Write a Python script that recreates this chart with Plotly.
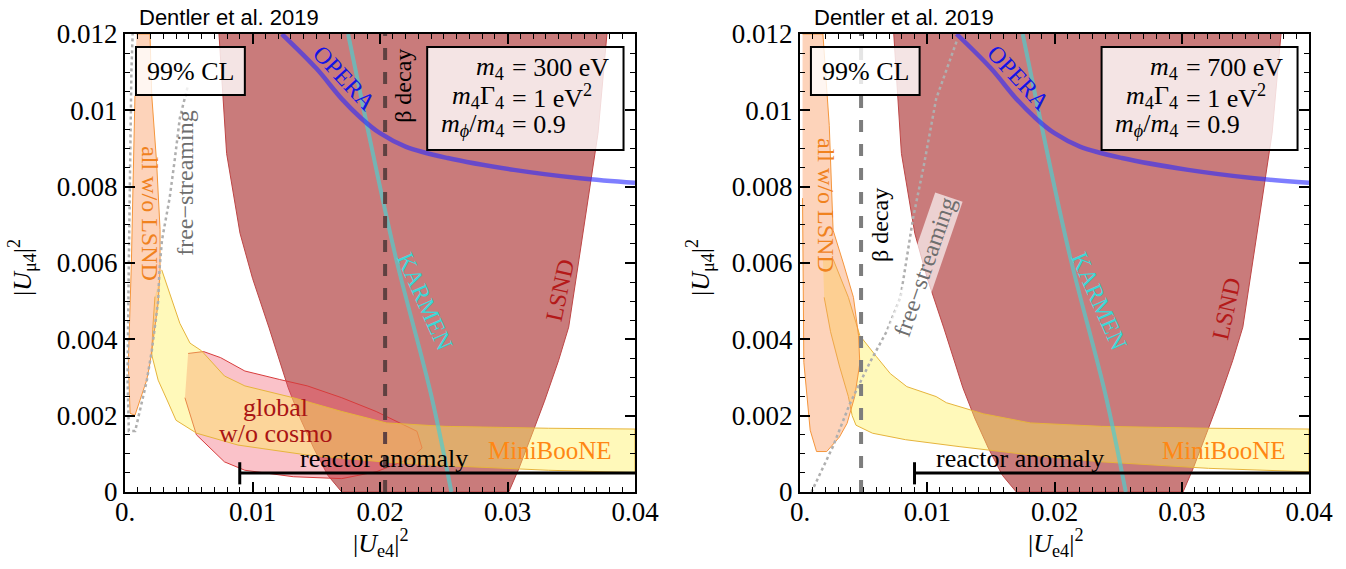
import plotly.graph_objects as go

# ---------------- data (|U_e4|^2, |U_mu4|^2) ----------------
lsnd_x = [0.00737, 0.00797, 0.00902, 0.0100, 0.0113, 0.0128, 0.01373, 0.0148, 0.0159, 0.0170,
          0.0301, 0.0309, 0.0321, 0.0329, 0.0340, 0.0348, 0.0356, 0.0364, 0.0371, 0.0378]
lsnd_y = [0.012, 0.00887, 0.00678, 0.0056, 0.0043, 0.00273, 0.00194, 0.00115, 0.00044, 0.0,
          0.0, 0.00062, 0.00167, 0.00238, 0.00344, 0.00432, 0.00608, 0.0079, 0.0094, 0.012]

opera_x = [0.0123, 0.0150, 0.0170, 0.0185, 0.0200, 0.0220, 0.0253, 0.0305, 0.0357, 0.0400]
opera_y = [0.012, 0.0111, 0.0103, 0.0098, 0.0094, 0.00905, 0.00875, 0.00844, 0.00822, 0.0081]

karmen_x = [0.0175, 0.0190, 0.0212, 0.0240, 0.0256]
karmen_y = [0.012, 0.00957, 0.0062, 0.00256, 0.0]

mb_left_x = [0.00288, 0.0034, 0.0043, 0.0051, 0.0060, 0.0078, 0.0094, 0.0132, 0.0170, 0.0205, 0.0251, 0.0332, 0.0400,
             0.0400, 0.0332, 0.0251, 0.0202, 0.01427, 0.00886, 0.00562, 0.0040, 0.0033, 0.0026, 0.0021, 0.00217, 0.00235]
mb_left_y = [0.00582, 0.0053, 0.00442, 0.0039, 0.0037, 0.00304, 0.00278, 0.00247, 0.00211, 0.00181, 0.00172, 0.00167, 0.00165,
             0.00051, 0.00057, 0.00069, 0.00079, 0.00097, 0.00123, 0.00154, 0.00188, 0.00241, 0.00293, 0.00359, 0.00425, 0.00512]

mb_right_x = [0.0018, 0.0026, 0.0038, 0.00445, 0.0047, 0.0060, 0.0071, 0.0084, 0.0107, 0.0115, 0.0144, 0.0181, 0.0237, 0.0321, 0.0400,
              0.0400, 0.0321, 0.0237, 0.0181, 0.0125, 0.0083, 0.0057, 0.0044, 0.0041, 0.0038, 0.0031, 0.0024, 0.0019]
mb_right_y = [0.0061, 0.0061, 0.0051, 0.00442, 0.0041, 0.00355, 0.0031, 0.00276, 0.0025, 0.00234, 0.00205, 0.00181, 0.00172, 0.00167, 0.00165,
              0.00053, 0.00062, 0.00079, 0.00097, 0.00119, 0.00137, 0.00154, 0.00175, 0.0020, 0.0025, 0.0033, 0.0042, 0.0051]

glob_x = [0.00495, 0.00616, 0.0075, 0.0094, 0.0121, 0.0143, 0.0170, 0.0197, 0.0229, 0.0233, 0.0224, 0.0197, 0.0170, 0.0132, 0.0094, 0.0078, 0.0056, 0.0047]
glob_y = [0.00363, 0.00368, 0.00352, 0.00317, 0.00295, 0.00278, 0.00247, 0.00211, 0.00159, 0.00115, 0.00088, 0.00053, 0.00035, 0.0004, 0.00057, 0.00079, 0.0015, 0.00247]

allw_left_x = [0.0009, 0.00196, 0.0021, 0.00248, 0.00275, 0.00275, 0.0026, 0.0021, 0.00196, 0.0017, 0.00118, 0.00078, 0.0004, 0.00026, 0.0005, 0.00065, 0.00078]
allw_left_y = [0.012, 0.012, 0.01038, 0.00863, 0.00688, 0.00582, 0.00495, 0.00372, 0.00337, 0.00293, 0.00241, 0.00201, 0.00206, 0.00337, 0.006, 0.00863, 0.01038]

allw_right_x = [0.0002, 0.0018, 0.0023, 0.0026, 0.0034, 0.0042, 0.0046, 0.0047, 0.0043, 0.0037, 0.0031, 0.0021, 0.0013, 0.0008, 0.0003, 0.0002]
allw_right_y = [0.012, 0.012, 0.0096, 0.00686, 0.0060, 0.0051, 0.0041, 0.00337, 0.0025, 0.0018, 0.00144, 0.00106, 0.00106, 0.00162, 0.0034, 0.0077]

fs_left_x = [0.0049, 0.0043, 0.0039, 0.0035, 0.0029, 0.0027, 0.0026, 0.0021, 0.0017, 0.0012, 0.0008, 0.0003, 0.0002, 0.0003, 0.0004, 0.0005, 0.0006]
fs_left_y = [0.0106, 0.0098, 0.0087, 0.0077, 0.0066, 0.0058, 0.0050, 0.0037, 0.0029, 0.0022, 0.0016, 0.0016, 0.0030, 0.0060, 0.0090, 0.0110, 0.0120]

fs_right_x = [0.0123, 0.0107, 0.0097, 0.0089, 0.0079, 0.0068, 0.0055, 0.0039, 0.0026, 0.0009]
fs_right_y = [0.0118, 0.0103, 0.0085, 0.0072, 0.0051, 0.0042, 0.0034, 0.0023, 0.0012, 0.0000]

beta_left_x = 0.0204
beta_right_x = 0.0048
reactor_x = [0.009, 0.040]
reactor_y = 0.0005

x_tickvals = [0, 0.01, 0.02, 0.03, 0.04]
x_ticktext = ["0.", "0.01", "0.02", "0.03", "0.04"]
y_tickvals = [0, 0.002, 0.004, 0.006, 0.008, 0.01, 0.012]
y_ticktext = ["0", "0.002", "0.004", "0.006", "0.008", "0.01", "0.012"]

params = {"left": "300", "right": "700"}

SERIF = "Liberation Serif"
SANS = "Liberation Sans"

fig = go.Figure()


def region(x, y, fill, line, xa, ya):
    fig.add_trace(go.Scatter(x=x, y=y, fill="toself", fillcolor=fill, mode="lines",
                             line=dict(color=line, width=1), xaxis=xa, yaxis=ya, hoverinfo="skip"))


def line(x, y, color, width, dash, xa, ya, shape="linear"):
    fig.add_trace(go.Scatter(x=x, y=y, mode="lines", line=dict(color=color, width=width, dash=dash, shape=shape),
                             xaxis=xa, yaxis=ya, hoverinfo="skip"))


panels = [
    ("x", "y", mb_left_x, mb_left_y, allw_left_x, allw_left_y, fs_left_x, fs_left_y, beta_left_x, True),
    ("x2", "y2", mb_right_x, mb_right_y, allw_right_x, allw_right_y, fs_right_x, fs_right_y, beta_right_x, False),
]

for xa, ya, mbx, mby, awx, awy, fsx, fsy, bx, has_glob in panels:
    region(lsnd_x, lsnd_y, "rgb(201,123,123)", "rgb(190,70,70)", xa, ya)
    if has_glob:
        region(glob_x, glob_y, "rgba(240,80,100,0.35)", "rgb(215,60,60)", xa, ya)
    region(mbx, mby, "rgba(255,240,90,0.42)", "rgb(230,180,60)", xa, ya)
    region(awx, awy, "rgba(250,150,90,0.42)", "rgb(245,150,60)", xa, ya)
    line(fsx, fsy, "rgb(175,175,175)", 2.5, "dot", xa, ya)
    line(karmen_x, karmen_y, "rgba(80,205,205,0.7)", 4, "solid", xa, ya, "spline")
    line(opera_x, opera_y, "rgba(40,40,255,0.6)", 4.5, "solid", xa, ya, "spline")
    if has_glob:
        line([bx, bx], [0, 0.012], "rgb(95,65,65)", 4, "dash", xa, ya)
    else:
        line([bx, bx], [0, 0.012], "rgb(125,125,125)", 4, "dash", xa, ya)
    # reactor anomaly bar
    line([reactor_x[0], reactor_x[1], None, reactor_x[0], reactor_x[0]],
         [reactor_y, reactor_y, None, reactor_y - 0.0003, reactor_y + 0.00028], "black", 3, "solid", xa, ya)

axis_common = dict(range=[0, 0.04], showgrid=False, zeroline=False, showline=True, linecolor="black", linewidth=2,
                   mirror="allticks", ticks="inside", ticklen=10, tickwidth=1.5, tickcolor="black",
                   tickfont=dict(family=SERIF, size=27, color="black"), automargin=False, ticklabelstandoff=-5,
                   minor=dict(ticks="inside", ticklen=5, tickwidth=1.2, tickcolor="black", dtick=0.001, showgrid=False),
                   tickmode="array", tickvals=x_tickvals, ticktext=x_ticktext)
yaxis_common = dict(range=[0, 0.012], showgrid=False, zeroline=False, showline=True, linecolor="black", linewidth=2,
                    mirror="allticks", ticks="inside", ticklen=10, tickwidth=1.5, tickcolor="black",
                    tickfont=dict(family=SERIF, size=27, color="black"), automargin=False,
                    minor=dict(ticks="inside", ticklen=5, tickwidth=1.2, tickcolor="black", dtick=0.0005, showgrid=False),
                    tickmode="array", tickvals=y_tickvals, ticktext=y_ticktext)

W, H = 1346, 569
yd = [(H - 492) / H, (H - 34) / H]
fig.update_layout(
    template="none",
    font=dict(family=SERIF, size=26, color="black"),
    width=W, height=H, margin=dict(l=0, r=0, t=0, b=0, pad=0), autosize=False,
    plot_bgcolor="white", paper_bgcolor="white", showlegend=False,
    xaxis=dict(domain=[125 / W, 635 / W], anchor="y", **axis_common),
    yaxis=dict(domain=yd, anchor="x", **yaxis_common),
    xaxis2=dict(domain=[800 / W, 1309 / W], anchor="y2", **axis_common),
    yaxis2=dict(domain=yd, anchor="x2", **yaxis_common),
)

shapes = []
annos = []


def ann(text, x, y, xa, ya, size=26, color="black", angle=0, family=SERIF, xanchor="center", bg=None, **kw):
    d = dict(text=text, x=x, y=y, xref=xa, yref=ya, showarrow=False, textangle=angle,
             font=dict(family=family, size=size, color=color), xanchor=xanchor, yanchor="middle")
    if bg:
        d["bgcolor"] = bg
    d.update(kw)
    annos.append(d)


for side, xa, ya in [("left", "x", "y"), ("right", "x2", "y2")]:
    shapes.append(dict(type="rect", xref=xa, yref=ya, x0=0.00086, x1=0.0094, y0=0.0104, y1=0.01166,
                       fillcolor="rgba(255,255,255,0.8)", line=dict(color="black", width=2)))
    shapes.append(dict(type="rect", xref=xa, yref=ya, x0=0.0237, x1=0.0391, y0=0.00896, y1=0.01166,
                       fillcolor="rgba(255,255,255,0.8)", line=dict(color="black", width=2)))
    ann("99% CL", 0.00513, 0.01103, xa, ya)
    eqx = 0.0302
    lhs = ["<i>m</i><sub>4</sub>", "<i>m</i><sub>4</sub>Γ<sub>4</sub>", "<i>m</i><sub><i>ϕ</i></sub>/<i>m</i><sub>4</sub>"]
    rhs = ["= %s eV" % params[side], "= 1 eV<sup>2</sup>", "= 0.9"]
    for i, yy in enumerate([0.01111, 0.01035, 0.00962]):
        ann(lhs[i], eqx - 0.0003, yy, xa, ya, xanchor="right")
        ann(rhs[i], eqx, yy, xa, ya, xanchor="left")
    ann("OPERA", 0.0172, 0.01085, xa, ya, size=24, color="rgb(20,20,230)", angle=47)
    ann("KARMEN", 0.0235, 0.0050, xa, ya, size=24, color="rgb(60,215,215)", angle=66)
    ann("MiniBooNE", 0.0333, 0.0011, xa, ya, size=25, color="rgb(255,135,20)")

# left-specific labels
ann("β decay", 0.0218, 0.01064, "x", "y", size=24, angle=-90)
ann("LSND", 0.0341, 0.0053, "x", "y", size=24, color="rgb(180,25,25)", angle=-78)
ann("all w/o LSND", 0.0019, 0.0073, "x", "y", size=24, color="rgb(240,130,30)", angle=90)
ann("free−streaming", 0.0047, 0.0081, "x", "y", size=24, color="rgb(110,110,110)", angle=-90)
ann("global", 0.0118, 0.00222, "x", "y", size=26, color="rgb(170,20,20)")
ann("w/o cosmo", 0.0118, 0.00152, "x", "y", size=26, color="rgb(170,20,20)")
ann("reactor anomaly", 0.0203, 0.00088, "x", "y", size=26)
# right-specific labels
ann("β decay", 0.0063, 0.0070, "x2", "y2", size=24, angle=-90)
ann("LSND", 0.0335, 0.0048, "x2", "y2", size=24, color="rgb(180,25,25)", angle=-78)
ann("all w/o LSND", 0.0021, 0.0075, "x2", "y2", size=24, color="rgb(240,130,30)", angle=90)
ann("free−streaming", 0.0098, 0.0059, "x2", "y2", size=24, color="rgb(110,110,110)", angle=-71,
    bg="rgba(255,255,255,0.65)")
ann("reactor anomaly", 0.0173, 0.00088, "x2", "y2", size=26)

# titles and axis labels (paper coords)
for px in [137, 812]:
    ann("Dentler et al. 2019", px / W, (H - 17) / H, "paper", "paper", size=22, family=SANS, xanchor="left")
for px in [380, 1055]:
    ann("|<i>U</i><sub>e4</sub>|<sup>2</sup>", px / W, (H - 543) / H, "paper", "paper", size=26)
for px in [22, 700]:
    ann("|<i>U</i><sub>μ4</sub>|<sup>2</sup>", px / W, (H - 268) / H, "paper", "paper", size=26, angle=-90)

fig.update_layout(shapes=shapes, annotations=annos)
fig.write_html("out.html", config={"displayModeBar": False},
               post_script="document.body.style.margin='0';document.body.style.overflow='hidden';")
